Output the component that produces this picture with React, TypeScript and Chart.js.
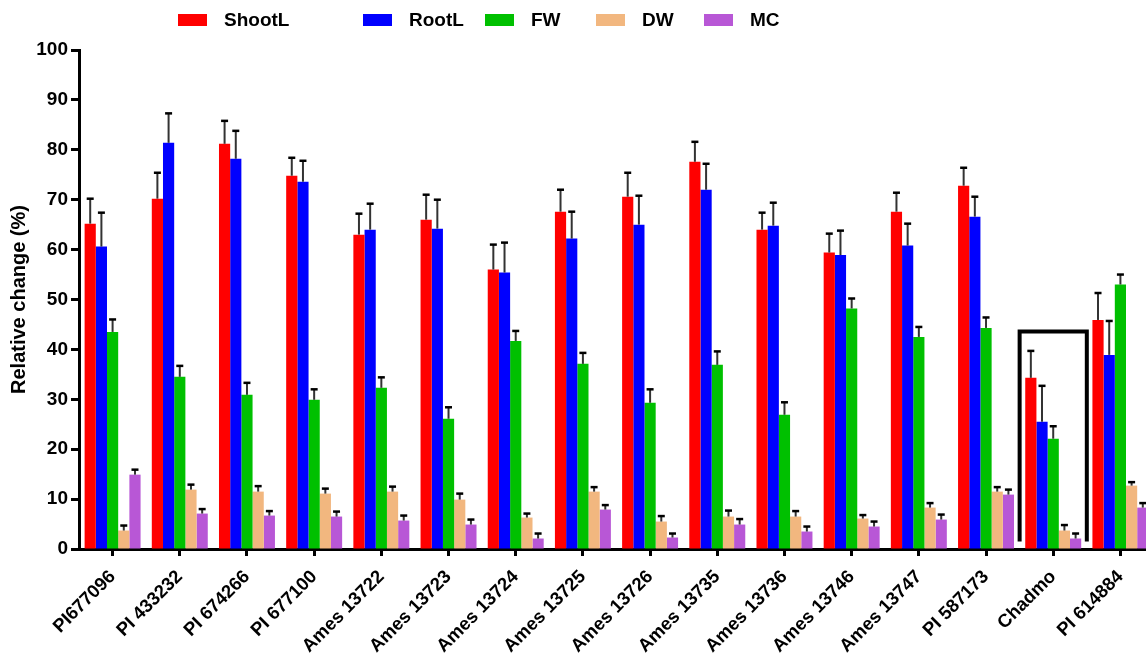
import React, { useEffect, useRef } from "react";
import { Chart, registerables } from "chart.js";

Chart.register(...registerables);

const categories = [
  "PI677096", "PI 433232", "PI 674266", "PI 677100", "Ames 13722", "Ames 13723",
  "Ames 13724", "Ames 13725", "Ames 13726", "Ames 13735", "Ames 13736", "Ames 13746",
  "Ames 13747", "PI 587173", "Chadmo", "PI 614884",
];

const seriesNames = ["ShootL", "RootL", "FW", "DW", "MC"];

const shootL = [65.2, 70.2, 81.2, 74.8, 63.0, 66.0, 56.0, 67.6, 70.6, 77.6, 64.0, 59.4, 67.6, 72.8, 34.3, 45.9];
const shootLErr = [5.0, 5.2, 4.6, 3.6, 4.2, 5.0, 5.0, 4.4, 4.8, 4.0, 3.4, 3.8, 3.8, 3.6, 5.4, 5.4];
const rootL = [60.6, 81.4, 78.2, 73.6, 64.0, 64.2, 55.4, 62.2, 65.0, 72.0, 64.8, 58.9, 60.8, 66.6, 25.5, 38.9];
const rootLErr = [6.8, 5.9, 5.6, 4.2, 5.2, 5.8, 6.0, 5.4, 5.8, 5.2, 4.6, 4.9, 4.4, 4.0, 7.2, 6.8];
const fw = [43.5, 34.5, 30.9, 29.9, 32.3, 26.1, 41.7, 37.1, 29.3, 36.9, 26.9, 48.2, 42.5, 44.3, 22.1, 53.0];
const fwErr = [2.5, 2.2, 2.4, 2.1, 2.1, 2.3, 2.0, 2.2, 2.7, 2.7, 2.5, 2.0, 2.0, 2.1, 2.5, 2.0];
const dw = [3.7, 11.9, 11.5, 11.1, 11.5, 9.9, 6.3, 11.5, 5.5, 6.5, 6.5, 6.1, 8.3, 11.5, 3.7, 12.7];
const dwErr = [1.0, 1.0, 1.1, 1.0, 1.0, 1.2, 0.8, 0.9, 1.1, 1.2, 1.1, 0.7, 0.9, 0.9, 1.1, 0.7];
const mc = [14.9, 7.1, 6.7, 6.5, 5.7, 4.9, 2.1, 7.9, 2.3, 4.9, 3.5, 4.5, 5.9, 10.9, 2.1, 8.3];
const mcErr = [1.0, 0.9, 0.9, 1.0, 1.0, 1.0, 1.0, 0.9, 0.8, 1.1, 1.0, 1.0, 1.0, 1.0, 1.0, 0.9];

const yTicks = [0, 10, 20, 30, 40, 50, 60, 70, 80, 90, 100];

const highlightCategory = "Chadmo";
const highlightTop = 43.6;
const highlightBottom = 1.5;

const colors = ["#FF0000", "#0000FF", "#00C000", "#F2B77F", "#B857D6"];
const FONT = "'Liberation Sans', Arial, sans-serif";

const errorBarPlugin = {
  id: "errorBars",
  afterDatasetsDraw(chart: any) {
    const ctx = chart.ctx;
    const y = chart.scales.y;
    chart.data.datasets.forEach((ds: any, i: number) => {
      const meta = chart.getDatasetMeta(i);
      meta.data.forEach((bar: any, j: number) => {
        const v = ds.data[j];
        const e = ds.errors[j];
        const top = y.getPixelForValue(v + e);
        ctx.save();
        ctx.strokeStyle = "#333";
        ctx.lineWidth = 2;
        ctx.beginPath();
        ctx.moveTo(bar.x, bar.y);
        ctx.lineTo(bar.x, top);
        ctx.stroke();
        ctx.strokeStyle = "#000";
        ctx.lineWidth = 2.5;
        ctx.beginPath();
        ctx.moveTo(bar.x - 3.5, top);
        ctx.lineTo(bar.x + 3.5, top);
        ctx.stroke();
        ctx.restore();
      });
    });
  },
};

const bracketPlugin = {
  id: "bracket",
  afterDatasetsDraw(chart: any) {
    const ctx = chart.ctx;
    const x = chart.scales.x;
    const y = chart.scales.y;
    const idx = categories.indexOf(highlightCategory);
    const c = x.getPixelForValue(idx);
    const half = x.width / categories.length / 2;
    const t = y.getPixelForValue(highlightTop);
    const b = y.getPixelForValue(highlightBottom);
    ctx.save();
    ctx.strokeStyle = "#000";
    ctx.lineWidth = 4;
    ctx.lineJoin = "miter";
    ctx.beginPath();
    ctx.moveTo(c - half, b);
    ctx.lineTo(c - half, t);
    ctx.lineTo(c + half, t);
    ctx.lineTo(c + half, b);
    ctx.stroke();
    ctx.restore();
  },
};

const legendPlugin = {
  id: "customLegend",
  afterDraw(chart: any, _args: any, opts: any) {
    const ctx = chart.ctx;
    ctx.save();
    ctx.font = `bold 19px ${FONT}`;
    ctx.textBaseline = "middle";
    ctx.textAlign = "left";
    opts.items.forEach((x: number, i: number) => {
      ctx.fillStyle = colors[i];
      ctx.fillRect(x, 14, 29, 12);
      ctx.fillStyle = "#000";
      ctx.fillText(seriesNames[i], x + 46, 21);
    });
    ctx.restore();
  },
};

export default function App() {
  const ref = useRef<HTMLCanvasElement | null>(null);

  useEffect(() => {
    if (!ref.current) return;
    const values = [shootL, rootL, fw, dw, mc];
    const errs = [shootLErr, rootLErr, fwErr, dwErr, mcErr];
    const chart = new Chart(ref.current, {
      type: "bar",
      data: {
        labels: categories,
        datasets: seriesNames.map((name, i) => ({
          label: name,
          data: values[i],
          errors: errs[i],
          backgroundColor: colors[i],
          borderWidth: 0,
          categoryPercentage: 0.833,
          barPercentage: 1.0,
        })) as any,
      },
      options: {
        animation: false,
        responsive: false,
        layout: { padding: { top: 50, right: 2, left: 0, bottom: 0 } },
        plugins: {
          legend: { display: false },
          tooltip: { enabled: false },
          customLegend: { items: [178, 363, 485, 596, 704] },
        } as any,
        scales: {
          x: {
            grid: {
              display: true,
              drawOnChartArea: false,
              drawTicks: true,
              tickLength: 7,
              tickWidth: 3,
              tickColor: "#000",
              offset: false,
            },
            border: { display: true, color: "#000", width: 3 },
            ticks: {
              color: "#000",
              font: { family: FONT, weight: "bold", size: 18.5 },
              minRotation: 45,
              maxRotation: 45,
              autoSkip: false,
              padding: 10,
            },
            afterFit: (s: any) => {
              s.height = 110;
            },
          },
          y: {
            min: 0,
            max: 100,
            afterBuildTicks: (s: any) => {
              s.ticks = yTicks.map((v) => ({ value: v }));
            },
            ticks: {
              color: "#000",
              font: { family: FONT, weight: "bold", size: 19 },
              padding: 3,
            },
            grid: {
              drawOnChartArea: false,
              tickLength: 8,
              tickWidth: 3,
              tickColor: "#000",
            },
            border: { display: true, color: "#000", width: 3 },
            title: {
              display: true,
              text: "Relative change (%)",
              color: "#000",
              font: { family: FONT, weight: "bold", size: 20 },
              padding: { top: 7, bottom: 0 },
            },
            afterFit: (s: any) => {
              s.width = 79;
            },
          },
        },
      } as any,
      plugins: [errorBarPlugin, bracketPlugin, legendPlugin],
    });
    return () => chart.destroy();
  }, []);

  return (
    <div
      style={{
        position: "fixed",
        left: 0,
        top: 0,
        width: 1146,
        height: 659,
        overflow: "hidden",
        background: "#fff",
      }}
    >
      <canvas ref={ref} width={1156} height={659} style={{ width: 1156, height: 659, display: "block" }} />
    </div>
  );
}
